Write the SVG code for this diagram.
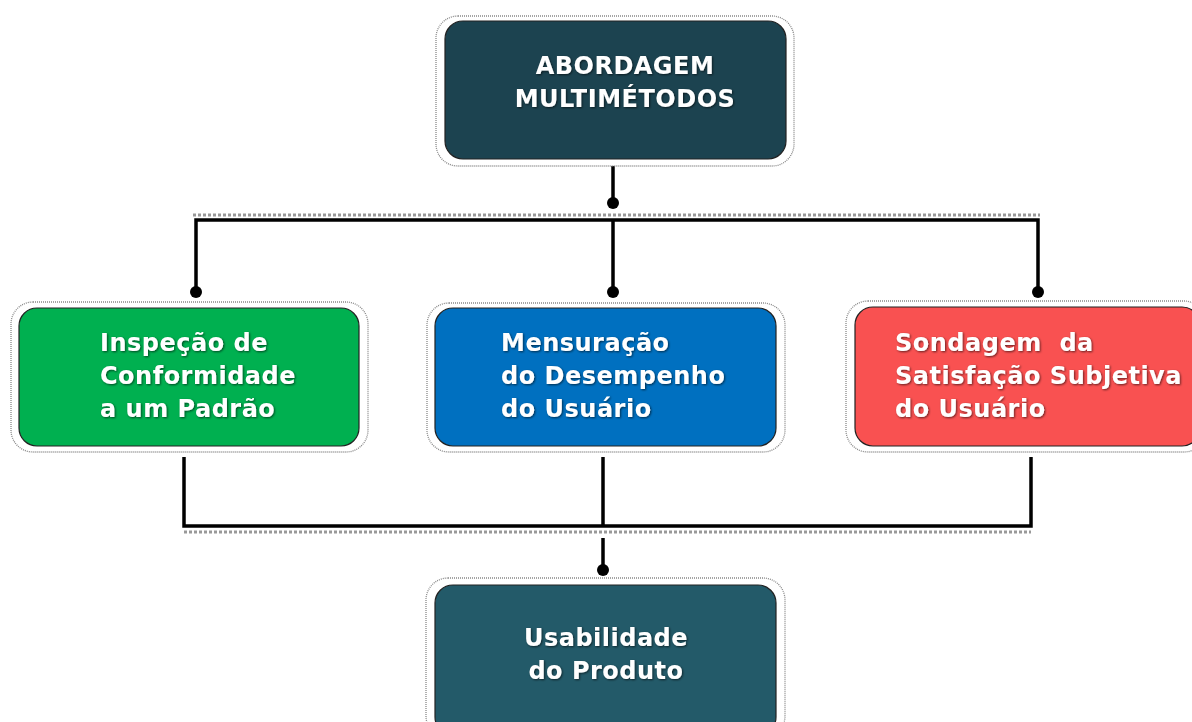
<svg xmlns="http://www.w3.org/2000/svg" width="1192" height="722" viewBox="0 0 1192 722">
<defs>
<filter id="sh" x="-10%" y="-30%" width="120%" height="160%">
<feDropShadow dx="1" dy="1" stdDeviation="0.8" flood-color="#000" flood-opacity="0.6"/>
</filter>
</defs>
<style>
.frame{fill:#fff;stroke:#888;stroke-width:1.3;stroke-dasharray:1 1}
.box{stroke:#222;stroke-width:1.2}
.t{font-family:"DejaVu Sans",Verdana,sans-serif;font-weight:bold;font-size:24px;letter-spacing:0.5px;fill:#fff;filter:url(#sh)}
.line{stroke:#000;stroke-width:3.5;fill:none}
.dots{stroke:#999;stroke-width:3;stroke-dasharray:3 2;fill:none}
.dot{fill:#000}
</style>
<rect width="1192" height="722" fill="#fff"/>
<g id="connectors">
<line class="line" x1="613" y1="166" x2="613" y2="203"/>
<circle class="dot" cx="613" cy="203" r="6"/>
<line class="dots" x1="193" y1="215" x2="1040" y2="215"/>
<polyline class="line" points="196,292 196,220 1038,220 1038,292"/>
<line class="line" x1="613" y1="220" x2="613" y2="292"/>
<circle class="dot" cx="196" cy="292" r="6"/>
<circle class="dot" cx="613" cy="292" r="6"/>
<circle class="dot" cx="1038" cy="292" r="6"/>
<polyline class="line" points="184,457 184,526 1031,526 1031,457"/>
<line class="line" x1="603" y1="457" x2="603" y2="526"/>
<line class="dots" x1="184" y1="532" x2="1031" y2="532"/>
<line class="line" x1="603" y1="538" x2="603" y2="570"/>
<circle class="dot" cx="603" cy="570" r="6"/>
</g>
<g id="n-top">
<rect class="frame" x="436" y="16" width="358" height="150" rx="22"/>
<rect class="box" x="445" y="21" width="341" height="138" rx="18" fill="#1c4350"/>
<text class="t" x="625" y="74" text-anchor="middle">ABORDAGEM</text>
<text class="t" x="625" y="107" text-anchor="middle">MULTIMÉTODOS</text>
</g>
<g id="n-left">
<rect class="frame" x="11" y="302" width="357" height="150" rx="22"/>
<rect class="box" x="19" y="308" width="340" height="138" rx="18" fill="#00b050"/>
<text class="t" x="100" y="351">Inspeção de</text>
<text class="t" x="100" y="384">Conformidade</text>
<text class="t" x="100" y="417">a um Padrão</text>
</g>
<g id="n-mid">
<rect class="frame" x="427" y="303" width="358" height="149" rx="22"/>
<rect class="box" x="435" y="308" width="341" height="138" rx="18" fill="#0070c0"/>
<text class="t" x="501" y="351">Mensuração</text>
<text class="t" x="501" y="384">do Desempenho</text>
<text class="t" x="501" y="417">do Usuário</text>
</g>
<g id="n-right">
<rect class="frame" x="846" y="301" width="360" height="151" rx="22"/>
<rect class="box" x="855" y="307" width="345" height="139" rx="18" fill="#f95151"/>
<text class="t" x="895" y="351">Sondagem&#160; da</text>
<text class="t" x="895" y="384">Satisfação Subjetiva</text>
<text class="t" x="895" y="417">do Usuário</text>
</g>
<g id="n-bottom">
<rect class="frame" x="426" y="578" width="359" height="160" rx="22"/>
<rect class="box" x="435" y="585" width="341" height="150" rx="18" fill="#235a69"/>
<text class="t" x="606" y="646" text-anchor="middle">Usabilidade</text>
<text class="t" x="606" y="679" text-anchor="middle">do Produto</text>
</g>
</svg>
